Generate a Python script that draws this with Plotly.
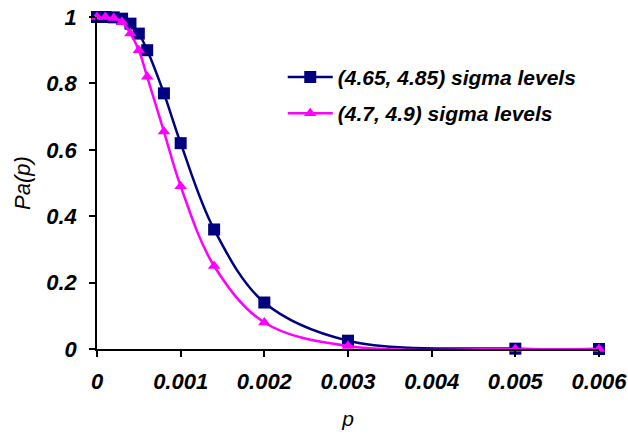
import plotly.graph_objects as go

p_values = [0, 0.0001, 0.0002, 0.0003, 0.0004, 0.0005, 0.0006, 0.0008,
            0.001, 0.0014, 0.002, 0.003, 0.005, 0.006]
pa_465_485 = [1.0, 1.0, 0.999, 0.995, 0.98, 0.95, 0.90, 0.77,
              0.62, 0.36, 0.14, 0.025, 0.001, 0.0]
pa_47_49 = [1.0, 1.0, 0.997, 0.985, 0.95, 0.90, 0.82, 0.655,
            0.49, 0.25, 0.08, 0.009, 0.0, 0.0]
series_names = ["(4.65, 4.85) sigma levels", "(4.7, 4.9) sigma levels"]
x_ticks = [0, 0.001, 0.002, 0.003, 0.004, 0.005, 0.006]
x_tick_labels = ["0", "0.001", "0.002", "0.003", "0.004", "0.005", "0.006"]
y_ticks = [0, 0.2, 0.4, 0.6, 0.8, 1]
y_tick_labels = ["0", "0.2", "0.4", "0.6", "0.8", "1"]

FONT = "Liberation Sans, Arial, sans-serif"
tick_font = dict(family=FONT, size=22, color="black", weight="bold", style="italic")

fig = go.Figure()
fig.add_trace(go.Scatter(
    x=p_values, y=pa_465_485, name=series_names[0], legendgroup="a",
    mode="lines+markers", line=dict(color="#000080", width=2.5, shape="spline", smoothing=1),
    marker=dict(symbol="square", size=12, color="#000080"), cliponaxis=False))
fig.add_trace(go.Scatter(
    x=p_values, y=pa_47_49, name=series_names[1], legendgroup="b",
    mode="lines+markers", line=dict(color="#FF00FF", width=2.5, shape="spline", smoothing=1),
    marker=dict(symbol="triangle-up", size=11, color="#FF00FF"), cliponaxis=False))

fig.update_layout(
    width=628, height=434,
    margin=dict(l=97, r=29, t=17, b=85),
    plot_bgcolor="white", paper_bgcolor="white",
    font=dict(family=FONT, color="black"),
    showlegend=True,
    legend=dict(x=0.37, y=0.88, xanchor="left", yanchor="top",
                font=dict(family=FONT, size=21, color="black", weight="bold", style="italic"),
                bgcolor="rgba(0,0,0,0)", tracegroupgap=6, itemwidth=45),
    xaxis=dict(range=[0, 0.006], tickvals=x_ticks, ticktext=x_tick_labels, automargin=False,
               showgrid=False, zeroline=False, showline=True, linecolor="black", linewidth=1.5,
               ticks="outside", ticklen=6, tickcolor="black", tickwidth=1.5,
               tickfont=tick_font, ticklabelstandoff=6,
               title=dict(text="p", font=dict(family=FONT, size=21, color="black", style="italic"),
                          standoff=18)),
    yaxis=dict(range=[0, 1], tickvals=y_ticks, ticktext=y_tick_labels, automargin=False,
               showgrid=False, zeroline=False, showline=True, linecolor="black", linewidth=1.5,
               ticks="outside", ticklen=6, tickcolor="black", tickwidth=1.5,
               tickfont=tick_font, ticklabelstandoff=8,
               title=dict(text="Pa(p)", font=dict(family=FONT, size=22, color="black", style="italic"),
                          standoff=10)),
)

fig.write_html("out.html", config={"displayModeBar": False},
               post_script="document.body.style.margin='0px';")
